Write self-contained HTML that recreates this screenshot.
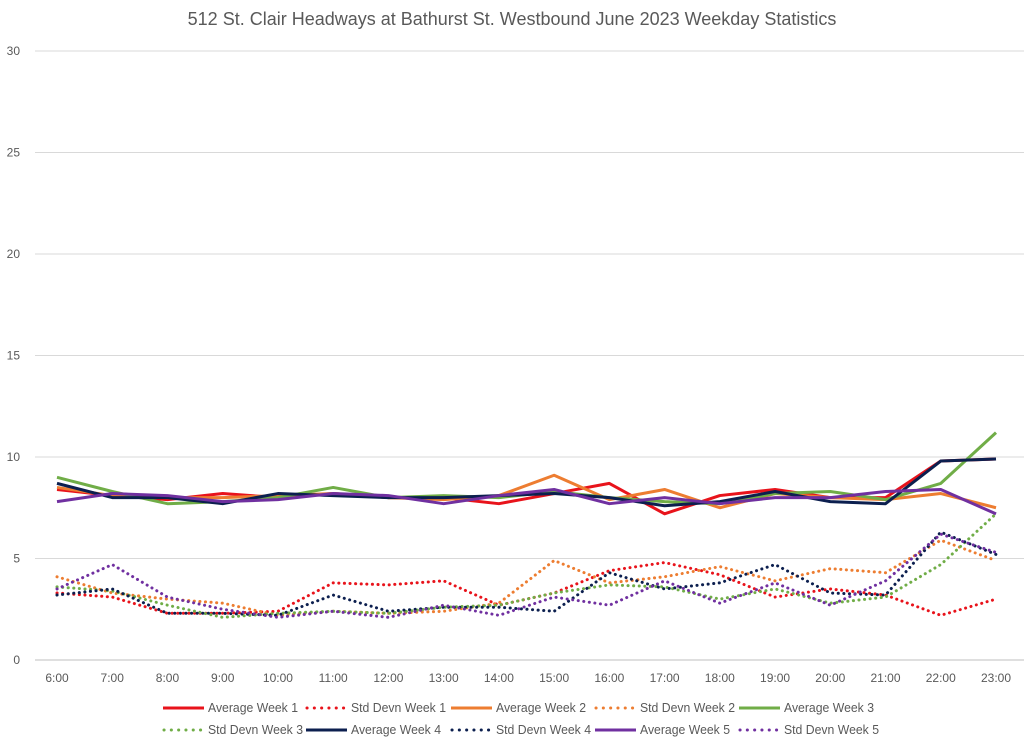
<!DOCTYPE html>
<html><head><meta charset="utf-8"><style>
body{margin:0;background:#fff;font-family:"Liberation Sans",sans-serif}
svg text{font-family:"Liberation Sans",sans-serif}
</style></head><body>
<svg id="c" width="1024" height="748">
<text x="512" y="25" text-anchor="middle" font-size="18" fill="#595959">512 St. Clair Headways at Bathurst St. Westbound June 2023 Weekday Statistics</text>
<g id="grid"></g><g id="series"></g><g id="legend"></g>
</svg>
<script>
const categories=["6:00","7:00","8:00","9:00","10:00","11:00","12:00","13:00","14:00","15:00","16:00","17:00","18:00","19:00","20:00","21:00","22:00","23:00"];
const yTicks=[0,5,10,15,20,25,30];
const avgW1=[8.4,8.1,7.9,8.2,8.0,8.2,8.0,8.0,7.7,8.2,8.7,7.2,8.1,8.4,8.0,8.0,9.8,9.9];
const stdW1=[3.3,3.1,2.3,2.3,2.4,3.8,3.7,3.9,2.7,3.3,4.4,4.8,4.2,3.1,3.5,3.2,2.2,3.0];
const avgW2=[8.5,8.1,8.0,8.0,8.1,8.2,8.0,7.9,8.1,9.1,7.9,8.4,7.5,8.2,8.0,7.9,8.2,7.5];
const stdW2=[4.1,3.3,3.0,2.8,2.2,2.4,2.3,2.4,2.8,4.9,3.8,4.1,4.6,3.9,4.5,4.3,5.9,4.9];
const avgW3=[9.0,8.3,7.7,7.8,8.0,8.5,8.0,8.1,8.0,8.3,8.0,7.8,7.7,8.2,8.3,7.9,8.7,11.2];
const stdW3=[3.6,3.4,2.7,2.1,2.3,2.4,2.3,2.6,2.7,3.3,3.7,3.6,3.0,3.5,2.8,3.1,4.7,7.2];
const avgW4=[8.7,8.0,8.0,7.7,8.2,8.1,8.0,8.0,8.1,8.2,8.0,7.6,7.8,8.3,7.8,7.7,9.8,9.9];
const stdW4=[3.2,3.5,2.3,2.3,2.2,3.2,2.4,2.6,2.6,2.4,4.3,3.5,3.8,4.7,3.3,3.2,6.3,5.2];
const avgW5=[7.8,8.2,8.1,7.8,7.9,8.2,8.1,7.7,8.1,8.4,7.7,8.0,7.7,8.0,8.0,8.3,8.4,7.2];
const stdW5=[3.5,4.7,3.1,2.5,2.1,2.4,2.1,2.7,2.2,3.1,2.7,3.9,2.8,3.8,2.7,3.9,6.2,5.3];
const seriesList=[
 ["Average Week 1",avgW1,"#e8131b",false],["Std Devn Week 1",stdW1,"#e8131b",true],
 ["Average Week 2",avgW2,"#ed7d31",false],["Std Devn Week 2",stdW2,"#ed7d31",true],
 ["Average Week 3",avgW3,"#70ad47",false],["Std Devn Week 3",stdW3,"#70ad47",true],
 ["Average Week 4",avgW4,"#0c1f4f",false],["Std Devn Week 4",stdW4,"#0c1f4f",true],
 ["Average Week 5",avgW5,"#7030a0",false],["Std Devn Week 5",stdW5,"#7030a0",true]];
const NS="http://www.w3.org/2000/svg";
const X0=57,X1=996,Y0=660,Y30=51;
const xS=i=>X0+i*(X1-X0)/(categories.length-1);
const yS=v=>Y0-v*(Y0-Y30)/30;
function mk(t,a,p){const e=document.createElementNS(NS,t);for(const k in a)e.setAttribute(k,a[k]);p.appendChild(e);return e;}
const grid=document.getElementById('grid');
yTicks.forEach(v=>{
 const l=mk('line',{x1:35,x2:1024,y1:yS(v),y2:yS(v),stroke:v===0?'#bfbfbf':'#d9d9d9','stroke-width':1},grid);
 
 
 const t=mk('text',{x:20,y:yS(v)+4,'text-anchor':'end','font-size':12,fill:'#595959'},grid);
 t.textContent=v;
 
 
});
categories.forEach((c,i)=>{
 const t=mk('text',{x:xS(i),y:682,'text-anchor':'middle','font-size':12,fill:'#595959'},grid);
 t.textContent=c;
 
 
});
const sg=document.getElementById('series');
seriesList.forEach(([name,vals,col,dot])=>{
 const p=mk('polyline',{points:vals.map((v,i)=>xS(i)+','+yS(v)).join(' '),fill:'none',stroke:col,'stroke-width':3,'stroke-linejoin':'round'},sg);
 if(dot){p.setAttribute('stroke-dasharray','0.1 5.5');p.setAttribute('stroke-linecap','round');p.setAttribute('stroke-width',3);}
 
 
});
const lg=document.getElementById('legend');
const legX=[163,306,451,595,739];
seriesList.forEach(([name,vals,col,dot],k)=>{
 const row=Math.floor(k/5),c=k%5;
 const x=legX[c],y=708+row*22;
 const g=mk('g',{},lg);
 
 
 const l=mk('line',{x1:dot?x+1:x,x2:dot?x+38:x+41,y1:y,y2:y,stroke:col,'stroke-width':3},g);
 if(dot){l.setAttribute('stroke-dasharray','0.1 7.2');l.setAttribute('stroke-linecap','round');}
 const t=mk('text',{x:x+45,y:y+4,'font-size':13,fill:'#595959',textLength:dot?95:90,lengthAdjust:'spacingAndGlyphs'},g);
 t.textContent=name;
});
</script>
</body></html>
